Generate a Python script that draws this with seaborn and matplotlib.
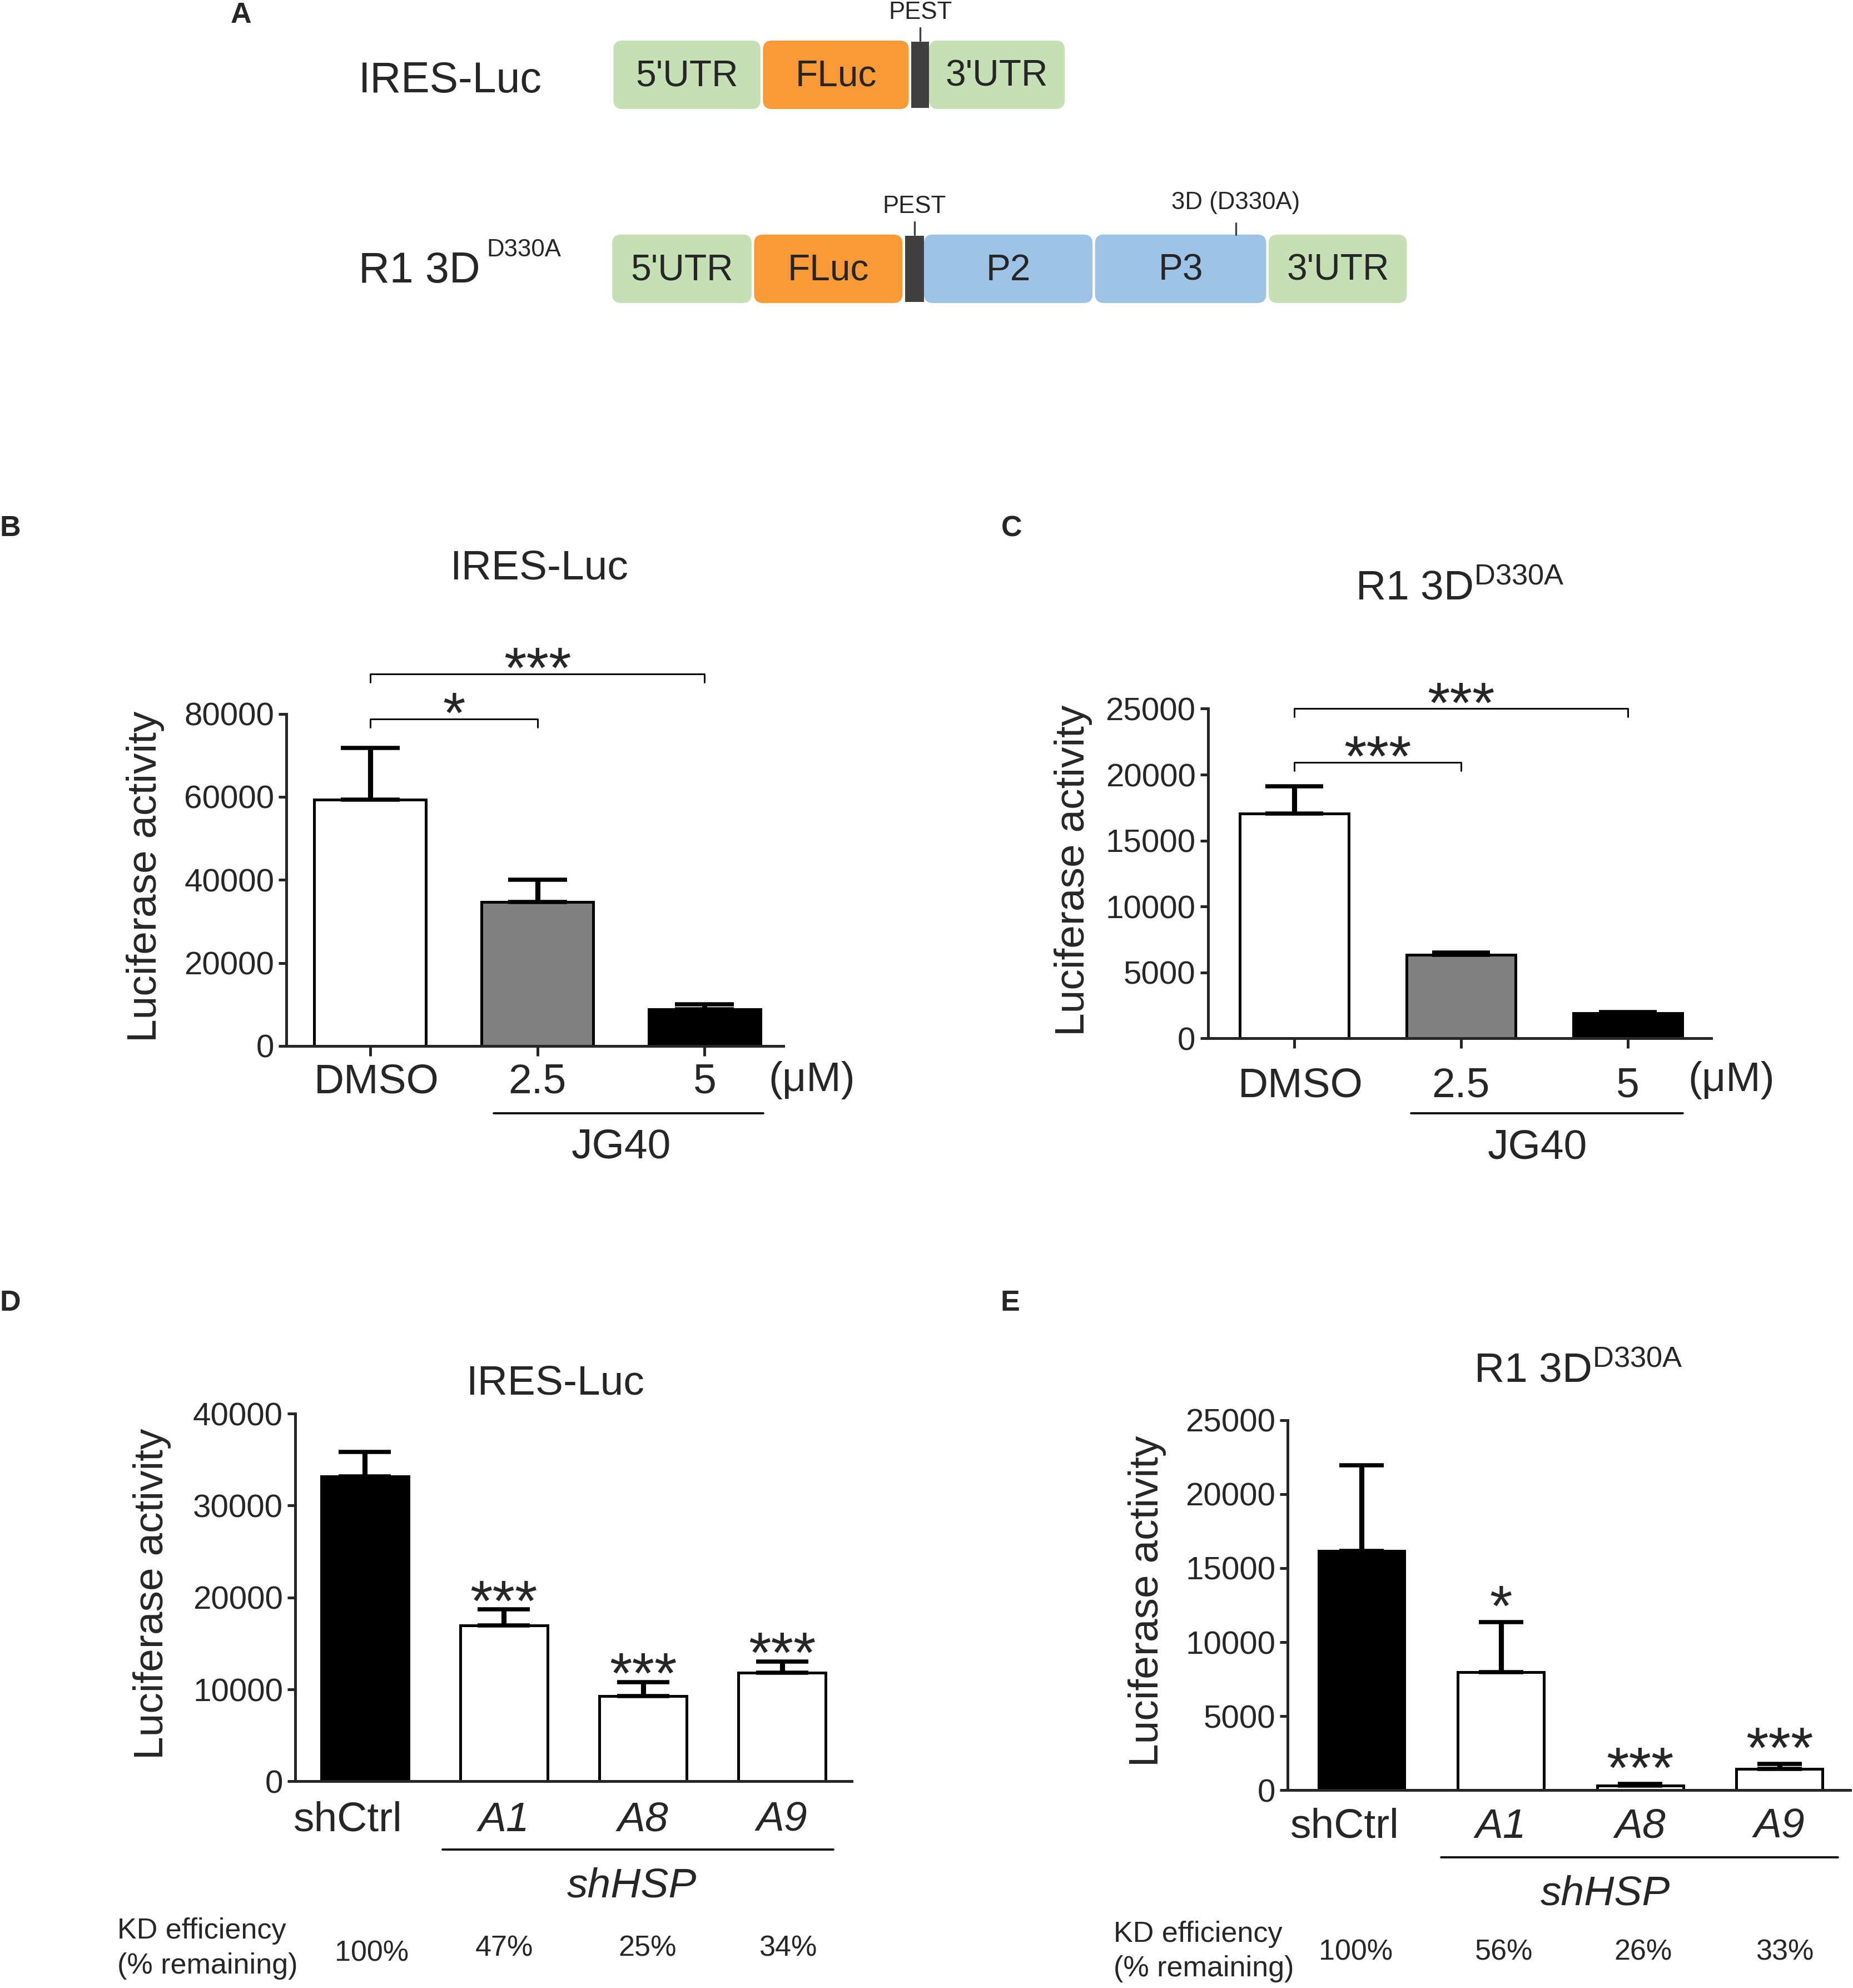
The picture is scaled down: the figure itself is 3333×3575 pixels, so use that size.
import numpy as np
import matplotlib
matplotlib.use('Agg')
import matplotlib.pyplot as plt
import matplotlib.transforms as mtransforms
import seaborn as sns
from matplotlib.patches import FancyBboxPatch, Rectangle

sns.set_style('ticks')
plt.rcParams['font.family'] = ['Liberation Sans', 'DejaVu Sans']
plt.rcParams['mathtext.fontset'] = 'custom'
plt.rcParams['mathtext.rm'] = 'Liberation Sans'
plt.rcParams['mathtext.it'] = 'Liberation Sans:italic'
plt.rcParams['axes.linewidth'] = 1.2

# ---- panel A: constructs ----
ires_parts = ["5'UTR", 'FLuc', 'PEST', "3'UTR"]
ires_widths = [116, 115, 14, 107]
r1_parts = ["5'UTR", 'FLuc', 'PEST', 'P2', 'P3', "3'UTR"]
r1_widths = [110, 117, 15, 133, 135, 109]
part_colors = {"5'UTR": '#c5e0b4', "3'UTR": '#c5e0b4', 'FLuc': '#fa9a37',
               'P2': '#9dc3e6', 'P3': '#9dc3e6', 'PEST': '#404040'}

# ---- panels B/C: JG40 ----
jg_labels = ['DMSO', '2.5', '5']
jg_colors = ['white', '#808080', 'black']
ires_jg_mean = [59300, 34700, 8800]
ires_jg_top = [71800, 40000, 10100]
r1_jg_mean = [17040, 6350, 1900]
r1_jg_top = [19100, 6510, 2000]
# (compared bar, bracket height, stars)
ires_jg_cmp = [(1, 78800, '*'), (2, 89600, '***')]
r1_jg_cmp = [(1, 20940, '***'), (2, 25000, '***')]

# ---- panels D/E: shRNA ----
sh_labels = ['shCtrl', 'A1', 'A8', 'A9']
sh_colors = ['black', 'white', 'white', 'white']
ires_sh_mean = [33160, 16970, 9300, 11810]
ires_sh_top = [35820, 18700, 10820, 13040]
r1_sh_mean = [16160, 7990, 300, 1430]
r1_sh_top = [21950, 11370, 430, 1770]
ires_sh_stars = ['', '***', '***', '***']
r1_sh_stars = ['', '*', '***', '***']
ires_kd = ['100%', '47%', '25%', '34%']
r1_kd = ['100%', '56%', '26%', '33%']

STAR = 25


def put_stars(ax, x, y, s):
    ax.annotate(s, xy=(x, y), xytext=(0, -0.55 * STAR), textcoords='offset points',
                ha='center', va='baseline', fontsize=STAR, annotation_clip=False)


def bar_panel(ax, labels, means, tops, colors, width, cap, ymax, step, xlim, tick_len, pad):
    sns.barplot(x=labels, y=means, hue=labels, palette=colors, width=width,
                edgecolor='black', linewidth=1.2, legend=False, errorbar=None, ax=ax)
    pos = np.arange(len(labels))
    up = np.array(tops) - np.array(means)
    ax.errorbar(pos, means, yerr=[np.zeros(len(pos)), up], fmt='none', ecolor='black',
                elinewidth=2.2, capsize=cap, capthick=1.8, zorder=5)
    ax.set_ylim(0, ymax)
    ax.set_yticks(np.arange(0, ymax + 1, step))
    ax.set_xlim(*xlim)
    ax.set_xlabel('')
    sns.despine(ax=ax)
    ax.tick_params(axis='y', labelsize=14, length=3.3, width=1.2, pad=2)
    ax.tick_params(axis='x', labelsize=18, length=tick_len, width=1.2, pad=pad)
    ax.set_ylabel('Luciferase activity', fontsize=18)


def shift_first_label(ax, dx_pt):
    lbl = ax.get_xticklabels()[0]
    off = mtransforms.ScaledTranslation(dx_pt / 72, 0, ax.figure.dpi_scale_trans)
    lbl.set_transform(lbl.get_transform() + off)


def bracket(ax, j, y, s, ymax):
    d = 0.025 * ymax
    ax.plot([0, 0, j, j], [y - d, y, y, y - d], color='black', lw=0.7, clip_on=False)
    put_stars(ax, j / 2, y + 0.055 * ymax, s)


def group_line(ax, x0, x1, yline, text, xt, yt, italic=False):
    tr = ax.get_xaxis_transform()
    ax.plot([x0, x1], [yline, yline], color='black', lw=0.9, transform=tr, clip_on=False)
    ax.text(xt, yt, text, transform=tr, ha='center', va='center', fontsize=18,
            fontstyle='italic' if italic else 'normal')


def kd_rows(ax, values, xlab, y1, y2, yv, xs):
    tr = ax.get_xaxis_transform()
    ax.text(xlab, y1, 'KD efficiency', transform=tr, ha='left', va='center', fontsize=12.5)
    ax.text(xlab, y2, '(% remaining)', transform=tr, ha='left', va='center', fontsize=12.5)
    for x, v, yy in zip(xs, values, yv):
        ax.text(x, yy, v, transform=tr, ha='center', va='center', fontsize=12.5)


fig = plt.figure(figsize=(3333 / 300, 3575 / 300), dpi=300)

# ---------------- panel A ----------------
axa = fig.add_axes([0, 1 - 300 / 1568, 1, 300 / 1568])
axa.set_xlim(0, 1462)
axa.set_ylim(300, 0)
axa.axis('off')


def draw_construct(ax, x0, y0, parts, widths, h=54, gap=2, mut=None):
    x = x0
    for name, w in zip(parts, widths):
        c = part_colors[name]
        if name == 'PEST':
            ax.add_patch(Rectangle((x, y0 + 1), w, h - 2, color=c, lw=0))
            ax.plot([x + w / 2, x + w / 2], [y0, y0 - 10], color='#404040', lw=0.8)
            ax.text(x + w / 2, y0 - 22, 'PEST', ha='center', va='center', fontsize=10.5)
            x += w
        else:
            ax.add_patch(FancyBboxPatch((x, y0), w, h, boxstyle='round,pad=0,rounding_size=7',
                                        fc=c, ec='none'))
            ax.text(x + w / 2, y0 + h / 2 + 1.5, name, ha='center', va='center', fontsize=15.8)
            if mut is not None and name == mut[0]:
                mx = x + mut[1]
                ax.plot([mx, mx], [y0, y0 - 9], color='#404040', lw=0.8)
                ax.text(mx, y0 - 25, mut[2], ha='center', va='center', fontsize=10.5)
            x += w + gap


draw_construct(axa, 484, 32, ires_parts, ires_widths)
draw_construct(axa, 483, 185, r1_parts, r1_widths, mut=('P3', 111, '3D (D330A)'))
axa.text(283, 64, 'IRES-Luc', ha='left', va='center', fontsize=18.5)
axa.text(283, 214, 'R1 3D', ha='left', va='center', fontsize=18.5)
axa.text(384, 197, 'D330A', ha='left', va='center', fontsize=10.5)

# ---------------- panel B ----------------
axb = fig.add_axes([0.15458, 0.47385, 0.26813, 0.16709])
bar_panel(axb, jg_labels, ires_jg_mean, ires_jg_top, jg_colors, 0.667, 12.7,
          80000, 20000, (-0.5, 2.47), 4.3, 3)
shift_first_label(axb, 2.7)
axb.yaxis.set_label_coords(-0.245, 0.51)
for j, y, s in ires_jg_cmp:
    bracket(axb, j, y, s, 80000)
axb.text(0.508, 1.405, 'IRES-Luc', transform=axb.transAxes, ha='center', va='baseline', fontsize=18)
axb.text(2.64, -0.103, '(\u03bcM)', transform=axb.get_xaxis_transform(), ha='center', va='center', fontsize=18)
group_line(axb, 0.74, 2.35, -0.202, 'JG40', 1.5, -0.305)

# ---------------- panel C ----------------
axc = fig.add_axes([0.65185, 0.47768, 0.27155, 0.16582])
bar_panel(axc, jg_labels, r1_jg_mean, r1_jg_top, jg_colors, 0.654, 12.5,
          25000, 5000, (-0.517, 2.5), 4.3, 8)
shift_first_label(axc, 2.7)
axc.yaxis.set_label_coords(-0.229, 0.51)
for j, y, s in r1_jg_cmp:
    bracket(axc, j, y, s, 25000)
axc.text(0.501, 1.331, r'R1 3D$^{\mathregular{D330A}}$', transform=axc.transAxes,
         ha='center', va='baseline', fontsize=18)
axc.text(2.62, -0.127, '(\u03bcM)', transform=axc.get_xaxis_transform(), ha='center', va='center', fontsize=18)
group_line(axc, 0.70, 2.33, -0.227, 'JG40', 1.46, -0.331)

# ---------------- panel D ----------------
axd = fig.add_axes([0.15937, 0.10395, 0.30027, 0.18495])
bar_panel(axd, sh_labels, ires_sh_mean, ires_sh_top, sh_colors, 0.627, 11.2,
          40000, 10000, (-0.5, 3.5), 0, 8.5)
for lbl in axd.get_xticklabels()[1:]:
    lbl.set_fontstyle('italic')
shift_first_label(axd, -7.2)
axd.yaxis.set_label_coords(-0.223, 0.51)
for i, s in enumerate(ires_sh_stars):
    if s:
        put_stars(axd, i, ires_sh_top[i] + 2250, s)
axd.text(0.467, 1.052, 'IRES-Luc', transform=axd.transAxes, ha='center', va='baseline', fontsize=18)
group_line(axd, 0.56, 3.37, -0.186, 'shHSP', 1.92, -0.286, italic=True)
kd_rows(axd, ires_kd, -1.78, -0.407, -0.503, [-0.469, -0.455, -0.455, -0.455], [0.05, 1.0, 2.03, 3.04])

# ---------------- panel E ----------------
axe = fig.add_axes([0.69494, 0.09949, 0.30369, 0.18622])
bar_panel(axe, sh_labels, r1_sh_mean, r1_sh_top, sh_colors, 0.618, 9.5,
          25000, 5000, (-0.53, 3.51), 0, 7.5)
for lbl in axe.get_xticklabels()[1:]:
    lbl.set_fontstyle('italic')
shift_first_label(axe, -7.2)
axe.yaxis.set_label_coords(-0.216, 0.51)
for i, s in enumerate(r1_sh_stars):
    if s:
        put_stars(axe, i, r1_sh_top[i] + 1900, s)
axe.text(0.516, 1.103, r'R1 3D$^{\mathregular{D330A}}$', transform=axe.transAxes,
         ha='center', va='baseline', fontsize=18)
group_line(axe, 0.57, 3.42, -0.182, 'shHSP', 1.75, -0.281, italic=True)
kd_rows(axe, r1_kd, -1.78, -0.390, -0.483, [-0.438] * 4, [-0.04, 1.02, 2.02, 3.04])

# panel letters
for s, x, y in [('A', 190, 12), ('B', 8, 417), ('C', 798, 417), ('D', 8, 1028), ('E', 797, 1028)]:
    fig.text(x / 1462, 1 - y / 1568, s, ha='center', va='center', fontsize=12.5, fontweight='bold')

fig.savefig('out.png', dpi=300)
